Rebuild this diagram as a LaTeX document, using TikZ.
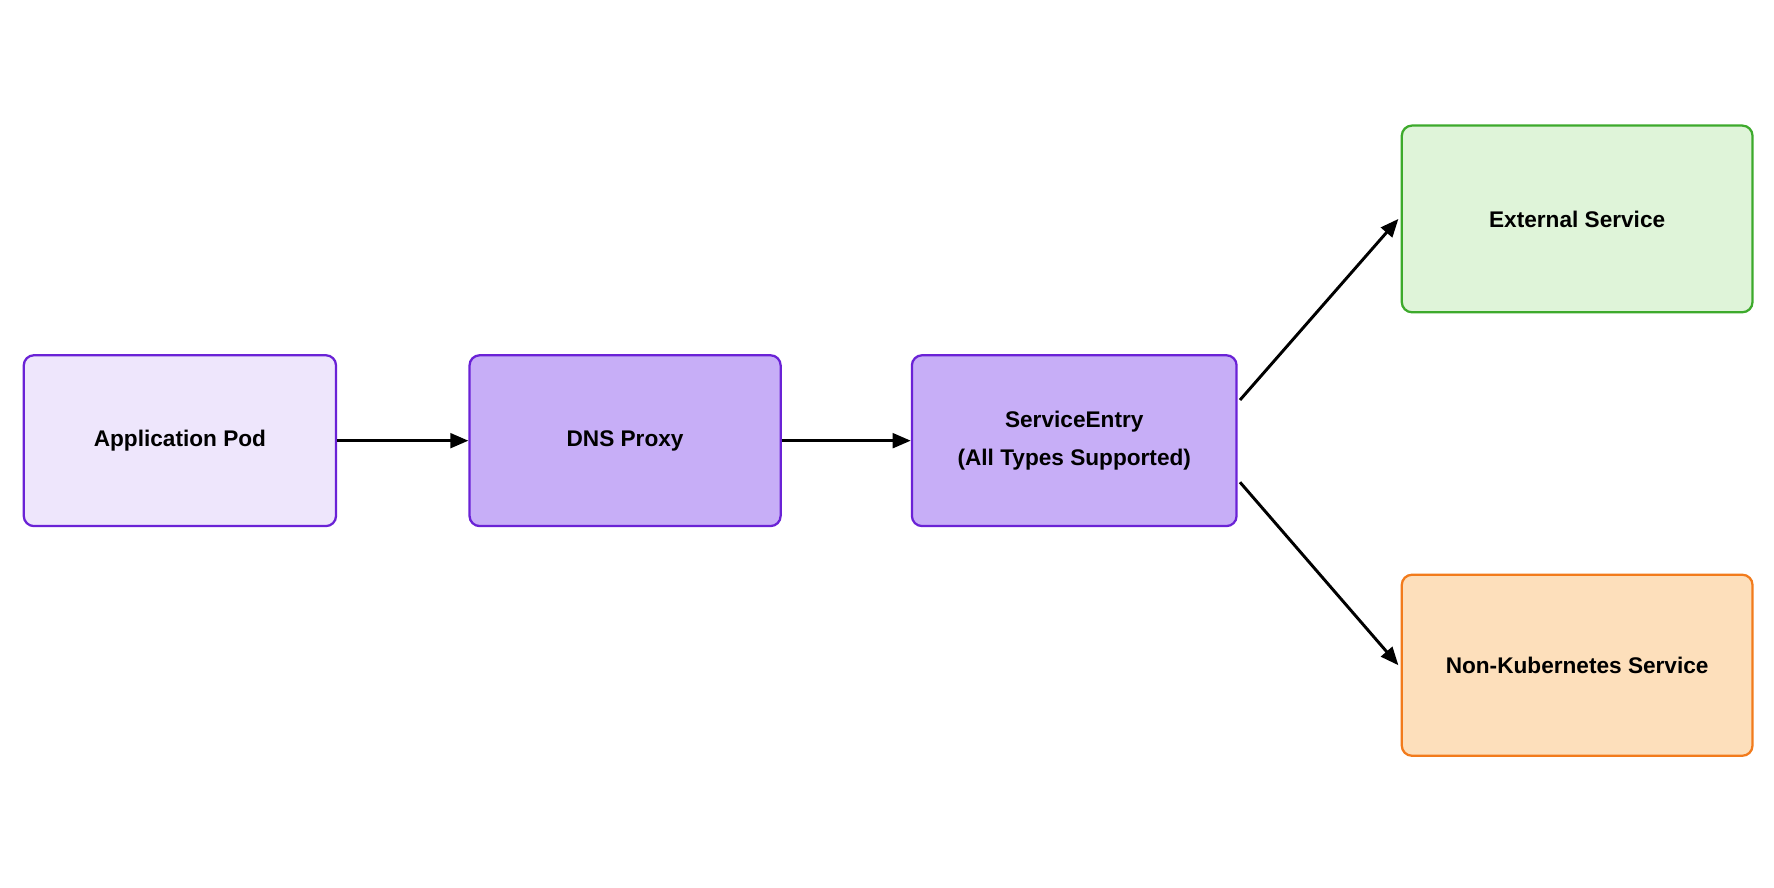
\documentclass[tikz,border=0pt]{standalone}
\usepackage{fontspec}
\setmainfont{Liberation Sans}
\usetikzlibrary{arrows.meta,calc}
\definecolor{pbd}{HTML}{6A22D6}
\definecolor{pl}{HTML}{EEE6FC}
\definecolor{pm}{HTML}{C7AEF7}
\definecolor{gf}{HTML}{DFF4D9}
\definecolor{gb}{HTML}{3DAA2C}
\definecolor{of}{HTML}{FDDFBB}
\definecolor{ob}{HTML}{F27B1C}
\begin{document}
\begin{tikzpicture}[x=1pt,y=-1pt,
 box/.style={draw,line width=2pt,rounded corners=9pt,anchor=north west,inner sep=0pt,align=center,font=\fontsize{20}{34}\selectfont\bfseries},
 arr/.style={line width=2.6pt,-{Triangle[length=16pt,width=13pt]}}]
\useasboundingbox[fill=white] (0,0) rectangle (1568,784);
\node[box,fill=pl,draw=pbd,minimum width=276pt,minimum height=151pt] (app) at (20,313) {Application Pod};
\node[box,fill=pm,draw=pbd,minimum width=275pt,minimum height=151pt] (dns) at (414,313) {DNS Proxy};
\node[box,fill=pm,draw=pbd,minimum width=287pt,minimum height=151pt] (se) at (805,313) {ServiceEntry\\(All Types Supported)};
\node[box,fill=gf,draw=gb,minimum width=310pt,minimum height=165pt] (ext) at (1238,110) {External Service};
\node[box,fill=of,draw=ob,minimum width=310pt,minimum height=160pt] (nk) at (1238,507) {Non-Kubernetes Service};
\coordinate (s1) at ($(se.north east)!0.265!(se.south east)+(2,0)$);
\coordinate (s2) at ($(se.north east)!0.74!(se.south east)+(2,0)$);
\draw[arr] (app) -- (dns);
\draw[arr] (dns) -- (se);
\draw[arr] (s1) -- ($(ext.west)+(-2,0)$);
\draw[arr] (s2) -- ($(nk.west)+(-2,0)$);
\end{tikzpicture}
\end{document}
